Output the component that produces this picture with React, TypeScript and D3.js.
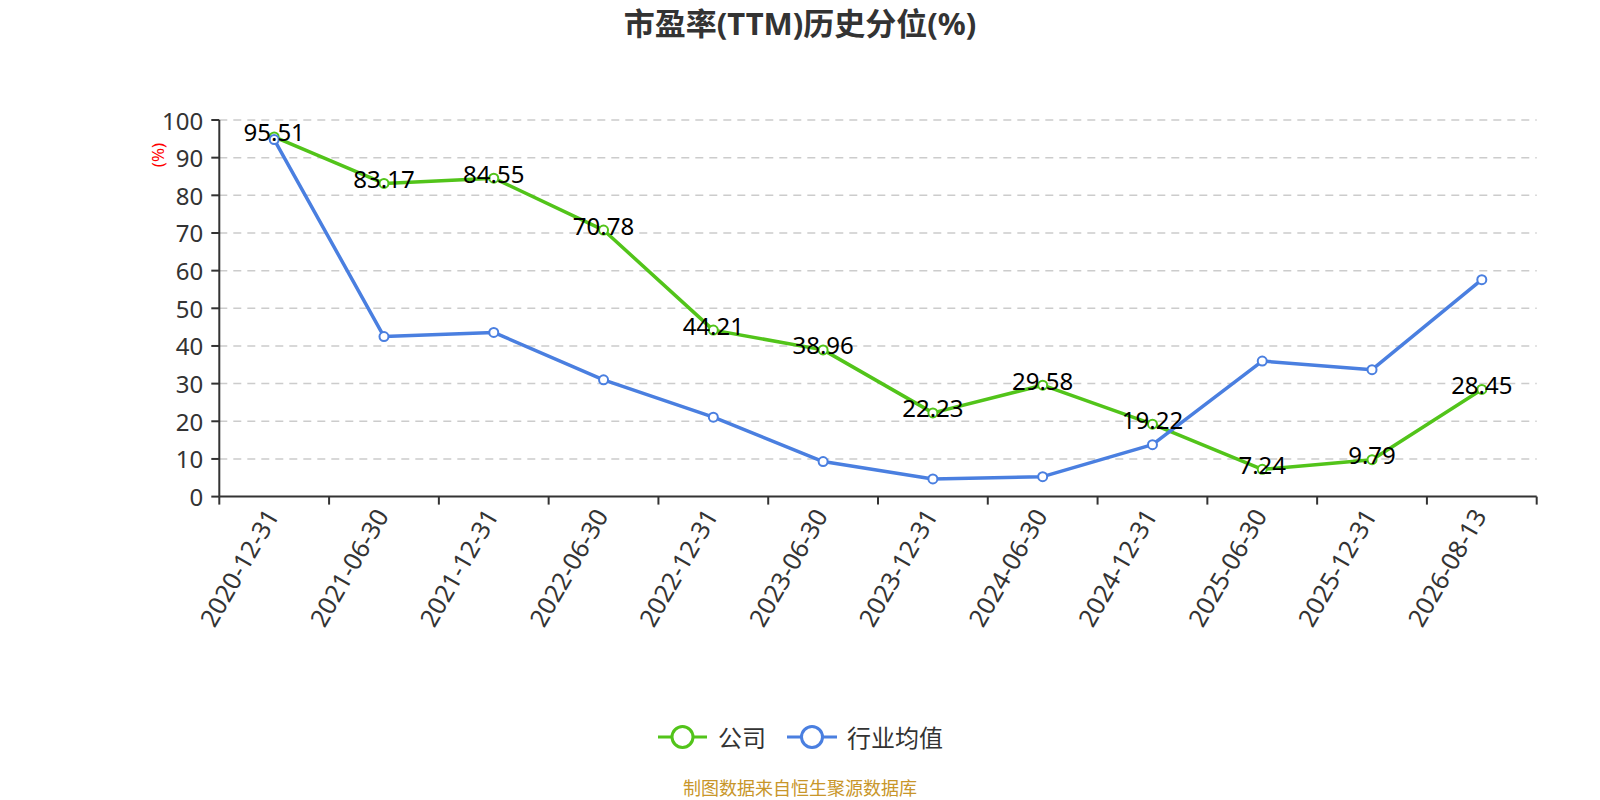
import React from "react";
import * as d3 from "d3";

const categories = ["2020-12-31","2021-06-30","2021-12-31","2022-06-30","2022-12-31","2023-06-30","2023-12-31","2024-06-30","2024-12-31","2025-06-30","2025-12-31","2026-08-13"];
const companyValues = [95.51,83.17,84.55,70.78,44.21,38.96,22.23,29.58,19.22,7.24,9.79,28.45];
const industryValues = [94.8,42.5,43.6,31.0,21.1,9.3,4.7,5.3,13.8,36.0,33.7,57.6];
const yTicks = [0,10,20,30,40,50,60,70,80,90,100];
const seriesNames = ["公司", "行业均值"];
const titleText = "市盈率(TTM)历史分位(%)";
const footerText = "制图数据来自恒生聚源数据库";

const W = 1600, H = 800;
const left = 219.3, right = 1536.7, top = 120, bottom = 496.6;
const GREEN = "#52c41a";
const BLUE = "#4a7fe0";
const FONT = "'Noto Sans', 'Noto Sans CJK SC', sans-serif";

export default function App() {
  const x = d3.scaleBand<string>().domain(categories).range([left, right]);
  const y = d3.scaleLinear().domain([0, 100]).range([bottom, top]);
  const cx = (c: string) => (x(c) as number) + x.bandwidth() / 2;
  const line = d3.line<number>().x((_, i) => cx(categories[i])).y((v) => y(v));
  const series = [
    { name: seriesNames[0], values: companyValues, color: GREEN, labels: true },
    { name: seriesNames[1], values: industryValues, color: BLUE, labels: false },
  ];
  const tickXs = categories.map((c) => x(c) as number).concat([right]);

  return (
    <div style={{ position: "absolute", left: 0, top: 0 }}>
      <svg width={W} height={H} style={{ display: "block", background: "#fff" }} fontFamily={FONT}>
        <text x={800} y={23} textAnchor="middle" dominantBaseline="central" fontSize={31} fontWeight="bold" fill="#333">{titleText}</text>
        {/* grid */}
        {yTicks.filter((t) => t > 0).map((t) => (
          <line key={t} x1={left} x2={right} y1={y(t)} y2={y(t)} stroke="#ccc" strokeWidth={1.5} strokeDasharray="8,6" />
        ))}
        {/* y axis */}
        <line x1={left} x2={left} y1={top} y2={bottom} stroke="#333" strokeWidth={2} />
        {yTicks.map((t) => (
          <g key={t}>
            <line x1={left - 8} x2={left} y1={y(t)} y2={y(t)} stroke="#333" strokeWidth={2} />
            <text x={left - 16} y={y(t)} textAnchor="end" dominantBaseline="central" fontSize={24} fill="#333">{t}</text>
          </g>
        ))}
        <text transform={`translate(157,155) rotate(-90)`} textAnchor="middle" dominantBaseline="central" fontSize={17} fill="red">(%)</text>
        {/* x axis */}
        <line x1={left} x2={right} y1={bottom} y2={bottom} stroke="#333" strokeWidth={2} />
        {tickXs.map((tx, i) => (
          <line key={i} x1={tx} x2={tx} y1={bottom} y2={bottom + 8} stroke="#333" strokeWidth={2} />
        ))}
        {categories.map((c) => (
          <text key={c} transform={`translate(${cx(c) - 3},${bottom + 14}) rotate(-60)`} textAnchor="end" dominantBaseline="central" fontSize={25} fill="#333">{c}</text>
        ))}
        {/* series */}
        {series.map((s) => (
          <g key={s.name}>
            <path d={line(s.values) as string} fill="none" stroke={s.color} strokeWidth={3.5} strokeLinejoin="round" />
            {s.values.map((v, i) => (
              <circle key={i} cx={cx(categories[i])} cy={y(v)} r={4.5} fill="#fff" stroke={s.color} strokeWidth={2} />
            ))}
          </g>
        ))}
        {series.filter((s) => s.labels).map((s) => (
          <g key={s.name + "l"}>
            {s.values.map((v, i) => (
              <text key={i} x={cx(categories[i])} y={y(v) - 5} textAnchor="middle" dominantBaseline="central" fontSize={24} fill="#000">{v.toFixed(2)}</text>
            ))}
          </g>
        ))}
        {/* legend */}
        <g>
          <line x1={658} x2={707} y1={737} y2={737} stroke={GREEN} strokeWidth={3} />
          <circle cx={682.5} cy={737} r={10.5} fill="#fff" stroke={GREEN} strokeWidth={3} />
          <text x={718} y={737} dominantBaseline="central" fontSize={24} fill="#333">{seriesNames[0]}</text>
          <line x1={787} x2={837} y1={737} y2={737} stroke={BLUE} strokeWidth={3} />
          <circle cx={812} cy={737} r={10.5} fill="#fff" stroke={BLUE} strokeWidth={3} />
          <text x={847} y={737} dominantBaseline="central" fontSize={24} fill="#333">{seriesNames[1]}</text>
        </g>
        <text x={800} y={788} textAnchor="middle" dominantBaseline="central" fontSize={18} fill="#c8962a">{footerText}</text>
      </svg>
    </div>
  );
}
